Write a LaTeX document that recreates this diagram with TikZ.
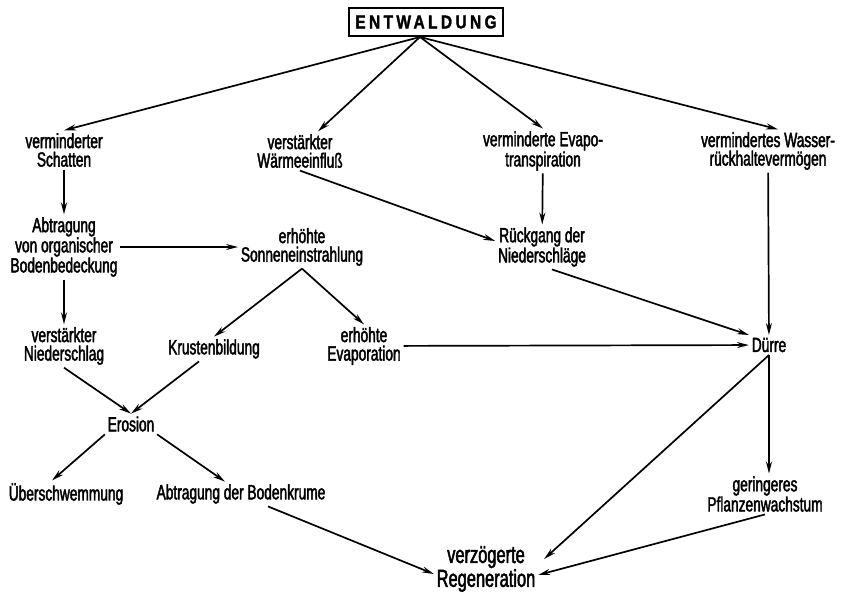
\documentclass[tikz,border=0pt]{standalone}
\usepackage{fontspec}
\setmainfont{Liberation Sans}[FakeStretch=0.67, FakeBold=2]
\newfontfamily\titelfont{Liberation Sans Bold}[FakeStretch=0.84, LetterSpace=18, FakeBold=1.5]
\usetikzlibrary{arrows.meta}
\begin{document}
\begin{tikzpicture}[
       x=1pt, y=-1pt,
       line width=1.7pt,
       >={Stealth[length=12pt,width=6pt]},
       feld/.style={
         align=center,
         inner sep=2pt,
         font=\fontsize{20.5}{18.5}\selectfont
       },
       titel/.style={
         draw,
         line width=2.8pt,
         minimum width=154pt,
         minimum height=28pt,
         inner sep=0pt,
         font=\titelfont\fontsize{18.5}{19}\selectfont
       }
     ]
       \useasboundingbox (0,0) rectangle (845,595);

       \node (ent) at (426,22) [titel]{ENTWALDUNG};
       \coordinate (fan) at (420,37);

       \node (schatten) at (64,150) [feld]{verminderter\\Schatten};
       \node (waerme) at (300,151) [feld]{verstärkter\\Wärmeeinfluß};
       \node (evapo) at (543,151) [feld]{verminderte Evapo-\\transpiration};
       \node (wasser) at (768,151) [feld]{vermindertes Wasser-\\rückhaltevermögen};

       \node (abtrag) at (64,247) [feld]{Abtragung\\von organischer\\Bodenbedeckung};
       \node (sonne) at (302,247) [feld]{erhöhte\\Sonneneinstrahlung};
       \node (rueck) at (542,247) [feld]{Rückgang der\\Niederschläge};

       \node (nieder) at (64,346) [feld]{verstärkter\\Niederschlag};
       \node (kruste) at (214,349) [feld]{Krustenbildung};
       \node (evap) at (364,346) [feld]{erhöhte\\Evaporation};
       \node (duerre) at (769,345) [feld]{Dürre};

       \node (erosion) at (131,424) [feld]{Erosion};

       \node (ueber) at (66,494) [feld]{Überschwemmung};
       \node (krume) at (241,494) [feld]{Abtragung der Bodenkrume};
       \node (pflanz) at (765,494) [feld]{geringeres\\Pflanzenwachstum};

       \node (regen) at (486,569) [feld, font=\fontsize{24.5}{22}\selectfont]{verzögerte\\Regeneration};

       \draw[->] (fan) -- (schatten.north);
       \draw[->] (fan) -- ([xshift=18pt]waerme.north);
       \draw[->] (fan) -- (evapo.north);
       \draw[->] (fan) -- ([xshift=10pt]wasser.north);

       \draw[->] (schatten) -- (abtrag);
       \draw[->] (abtrag) -- (sonne);
       \draw[->] (abtrag) -- (nieder);
       \draw[->] (waerme.south) -- ([yshift=6pt]rueck.west);
       \draw[->] (evapo) -- (rueck);
       \draw[->] ([xshift=10pt]rueck.south) -- (duerre.north west);
       \draw[->] (wasser) -- (duerre);

       \draw[->] (sonne.south) -- (kruste.north);
       \draw[->] (sonne.south) -- (evap.north);
       \draw[->] (evap) -- (duerre);

       \draw[->] (nieder.south) -- (erosion.north);
       \draw[->] ([xshift=-15pt]kruste.south) -- (erosion.north);
       \draw[->] (erosion.south west) -- ([xshift=-14pt]ueber.north);
       \draw[->] (erosion.south east) -- ([xshift=-16pt]krume.north);

       \draw[->] (duerre.south) -- (duerre.south |- pflanz.north);
       \draw[->] (duerre.south) -- ([xshift=6pt,yshift=10pt]regen.east);
       \draw[->] ([xshift=27pt]krume.south) -- ([yshift=-5pt]regen.west);
       \draw[->] (pflanz.south) -- ([yshift=-6pt]regen.east);

\end{tikzpicture}
\end{document}
